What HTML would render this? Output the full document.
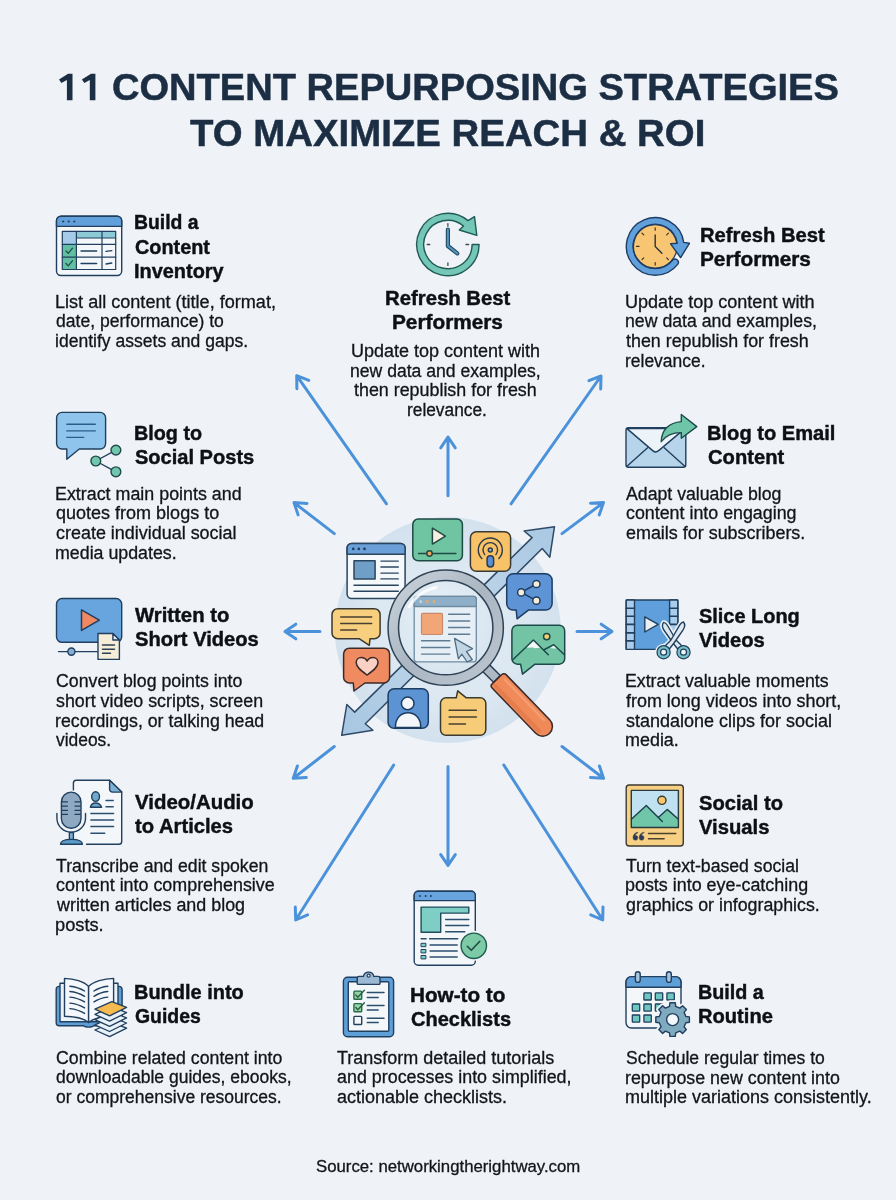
<!DOCTYPE html>
<html><head><meta charset="utf-8"><title>11 Content Repurposing Strategies</title>
<style>
html,body{margin:0;padding:0}
body{width:896px;height:1200px;position:relative;overflow:hidden;background:#eff3f7;font-family:"Liberation Sans",sans-serif}
#g{position:absolute;left:0;top:0;filter:blur(0.45px)}
#txt{position:absolute;left:0;top:0;width:896px;height:1200px;will-change:transform;filter:blur(0.35px)}
.x{position:absolute;white-space:nowrap;line-height:1;transform-origin:0 0;margin:0}
.t{font-size:37px;font-weight:700;color:#1c2e43;-webkit-text-stroke:0.5px #1c2e43}
.h{font-size:21px;font-weight:700;color:#0e1013;-webkit-text-stroke:0.45px #0e1013}
.b{font-size:17.6px;font-weight:400;color:#131518;-webkit-text-stroke:0.3px #131518}
.s{font-size:16.8px;font-weight:400;color:#131518;-webkit-text-stroke:0.3px #131518}
</style></head><body>
<svg id="g" width="896" height="1200" viewBox="0 0 896 1200">
<path d="M386.5 503.8L296.7 375.7M296.9 388.7L296.7 375.7L308.8 380.4" fill="none" stroke="#4c92da" stroke-width="3" stroke-linecap="round" stroke-linejoin="round"/>
<path d="M448.0 495.8L448.0 437.0M440.7 447.8L448.0 437.0L455.3 447.8" fill="none" stroke="#4c92da" stroke-width="3" stroke-linecap="round" stroke-linejoin="round"/>
<path d="M511.0 503.8L601.0 376.0M588.9 380.6L601.0 376.0L600.7 389.0" fill="none" stroke="#4c92da" stroke-width="3" stroke-linecap="round" stroke-linejoin="round"/>
<path d="M334.3 533.6L294.0 502.6M298.1 514.9L294.0 502.6L307.0 503.4" fill="none" stroke="#4c92da" stroke-width="3" stroke-linecap="round" stroke-linejoin="round"/>
<path d="M562.0 533.6L603.5 502.6M590.5 503.2L603.5 502.6L599.2 514.9" fill="none" stroke="#4c92da" stroke-width="3" stroke-linecap="round" stroke-linejoin="round"/>
<path d="M320.0 631.5L285.0 631.5M295.8 638.8L285.0 631.5L295.8 624.2" fill="none" stroke="#4c92da" stroke-width="3" stroke-linecap="round" stroke-linejoin="round"/>
<path d="M577.0 631.5L612.0 631.5M601.2 624.2L612.0 631.5L601.2 638.8" fill="none" stroke="#4c92da" stroke-width="3" stroke-linecap="round" stroke-linejoin="round"/>
<path d="M334.3 746.5L293.3 778.3M306.3 777.4L293.3 778.3L297.4 766.0" fill="none" stroke="#4c92da" stroke-width="3" stroke-linecap="round" stroke-linejoin="round"/>
<path d="M562.0 746.5L603.5 778.3M599.4 766.0L603.5 778.3L590.5 777.5" fill="none" stroke="#4c92da" stroke-width="3" stroke-linecap="round" stroke-linejoin="round"/>
<path d="M393.7 765.0L295.7 920.0M307.6 914.8L295.7 920.0L295.3 907.0" fill="none" stroke="#4c92da" stroke-width="3" stroke-linecap="round" stroke-linejoin="round"/>
<path d="M448.0 766.6L448.0 865.4M455.3 854.6L448.0 865.4L440.7 854.6" fill="none" stroke="#4c92da" stroke-width="3" stroke-linecap="round" stroke-linejoin="round"/>
<path d="M503.8 765.0L602.7 920.0M603.0 907.0L602.7 920.0L590.8 914.8" fill="none" stroke="#4c92da" stroke-width="3" stroke-linecap="round" stroke-linejoin="round"/>
<path d="M72.5 73.7L72.5 100.2L66.9 100.2L66.9 79.9L61.4 83L59.0 79.4L68.1 73.7Z" fill="#1c2e43"/>
<path d="M95.4 73.7L95.4 100.2L89.8 100.2L89.8 79.9L84.3 83L81.9 79.4L91.0 73.7Z" fill="#1c2e43"/>
<g stroke="#213f5e" stroke-width="1.4" stroke-linejoin="round" stroke-linecap="round" ><rect x="56.5" y="216.2" width="65.2" height="59.3" rx="4.5" fill="#f3f7fa"/><path d="M56.5 226.4V220.7a4.5 4.5 0 0 1 4.5-4.5H117.2a4.5 4.5 0 0 1 4.5 4.5V226.4Z" fill="#62a0dc"/><circle cx="63.2" cy="221.5" r="1.1" fill="#213f5e" stroke="none"/><circle cx="68.7" cy="221.5" r="1.1" fill="#213f5e" stroke="none"/><circle cx="74.3" cy="221.5" r="1.1" fill="#213f5e" stroke="none"/><rect x="62.3" y="231.3" width="14.1" height="13" fill="#a5cbe8" stroke="none"/><rect x="76.4" y="231.3" width="39.3" height="6.7" fill="#8ccad6" stroke="none"/><rect x="62.3" y="244.3" width="14.1" height="25.2" fill="#62bfa3" stroke="none"/><rect x="62.3" y="231.3" width="53.4" height="38.2" fill="none" stroke-width="1.2"/><path d="M76.4 231.3V269.5M102 231.3V269.5M76.4 238H115.7M62.3 244.3H115.7M62.3 257.2H115.7" fill="none" stroke-width="1.2"/><path d="M66 251l2.3 2.4 4.2-5.2M66 263.5l2.3 2.4 4.2-5.2" fill="none" stroke="#1d5248" stroke-width="1.3"/><path d="M81 251H96.7M81 263.5H96.7M106 251.4L111.8 250.6M106 264L111.8 263" fill="none" stroke-width="1.3"/></g>
<g stroke="#213f5e" stroke-width="1.4" stroke-linejoin="round" stroke-linecap="round" ><path d="M479.1 244.5A31.2 31.2 0 1 1 468.0 220.6L474.5 216.6L476.8 235.4L459.3 230L463.5 226.0A24.2 24.2 0 1 0 472.1 244.5Z" fill="#74c6b7" stroke="#1f5a55" stroke-width="1.4"/><path d="M447.9 229.6V246L457.3 253.4" fill="none" stroke="#1f4a66" stroke-width="4.2"/><path d="M447.9 229.6V246L457.3 253.4" fill="none" stroke="#5594bd" stroke-width="2"/><path d="M447.9 223.6v2.6M447.9 262.8v2.6M427.2 244.5h2.6M466 244.5h2.6" fill="none" stroke="#3a4a55" stroke-width="1.3"/></g>
<g stroke="#213f5e" stroke-width="1.4" stroke-linejoin="round" stroke-linecap="round" ><circle cx="655.2" cy="246.4" r="21.8" fill="#f8c572" stroke-width="1.3"/><path d="M677.9 264.1A28.8 28.8 0 1 1 683.7 242.4L689.4 243.3L680.6 257.6L670.6 243.8L677.2 243.3A22.2 22.2 0 1 0 672.7 260.1A3.3 3.3 0 0 1 677.9 264.1Z" fill="#62a0dc" stroke="#1d3d63" stroke-width="1.4"/><path d="M655.2 235V246.6L661.9 253.3" fill="none" stroke="#2a3340" stroke-width="1.4"/><path d="M666.7 257.9L668.4 259.6M655.2 262.6L655.2 265.0M643.7 257.9L642.0 259.6M639.0 246.4L636.6 246.4M643.7 234.9L642.0 233.2M655.2 230.2L655.2 227.8M666.7 234.9L668.4 233.2" fill="none" stroke="#3a3428" stroke-width="1.2"/></g>
<g stroke="#213f5e" stroke-width="1.4" stroke-linejoin="round" stroke-linecap="round" ><path d="M62 412.4H100.2a5.4 5.4 0 0 1 5.4 5.4V443.6a5.4 5.4 0 0 1-5.4 5.4H79.3L66.8 459.3V449H62a5.4 5.4 0 0 1-5.4-5.4V417.8a5.4 5.4 0 0 1 5.4-5.4Z" fill="#8fc4ec"/><path d="M66.8 424.2H95.3M66.8 430.9H95.3M66.8 437.4H83.7" fill="none" stroke="#2a5d8a" stroke-width="1.4"/><path d="M115.9 450.1L95.8 461L115.9 471.8" fill="none" stroke-width="1.4"/><circle cx="115.9" cy="450.1" r="4.9" fill="#72c6ab" stroke="#1d4a4a"/><circle cx="95.8" cy="461" r="4.9" fill="#72c6ab" stroke="#1d4a4a"/><circle cx="115.9" cy="471.8" r="4.9" fill="#72c6ab" stroke="#1d4a4a"/></g>
<g stroke="#213f5e" stroke-width="1.4" stroke-linejoin="round" stroke-linecap="round" ><rect x="626" y="427.6" width="59.8" height="39.7" rx="2.5" fill="#b7d5ea"/><path d="M627 466.3L647.6 447.7M684.8 466.3L664.2 447.7" fill="none"/><path d="M627 428.6L652.7 450.6a4.5 4.5 0 0 0 6 0L684.8 428.6Z" fill="#edf4f9"/><path d="M661.2 441.7C661.5 430 669 422.5 681.3 421.6V414.5L696.8 426.6L681.3 438.2V432.6C672 432.5 665.5 436 661.2 441.7Z" fill="#6ec5a8" stroke="#1d4a4a"/></g>
<g stroke="#213f5e" stroke-width="1.4" stroke-linejoin="round" stroke-linecap="round" ><rect x="56.5" y="598.5" width="65.2" height="43.8" rx="5.6" fill="#68a4de"/><path d="M81.5 609.9V630.4L99.3 620.1Z" fill="#f08862" stroke-width="1.5"/><path d="M58.5 651.6H98" fill="none"/><circle cx="71.4" cy="651.6" r="3.6" fill="#86add4"/><path d="M98 633.5H112.9L119.4 640V659.4H98Z" fill="#f5edd8"/><path d="M112.9 633.5V640H119.4Z" fill="#e6edf2"/><path d="M102.5 645.1H114.5M102.5 649.2H114.5M102.5 653.2H110.5" fill="none" stroke="#2c3f52" stroke-width="1.5"/></g>
<g stroke="#213f5e" stroke-width="1.4" stroke-linejoin="round" stroke-linecap="round" ><rect x="626.2" y="600" width="51.6" height="49.4" rx="1" fill="#5f9fdc"/><rect x="626.2" y="600" width="8.3" height="49.4" fill="#a9cdea"/><rect x="669.6" y="600" width="8.2" height="49.4" fill="#a9cdea"/><path d="M626.2 608.3h8.3M669.6 608.3h8.2M626.2 616.3h8.3M669.6 616.3h8.2M626.2 624.4h8.3M669.6 624.4h8.2M626.2 632.9h8.3M669.6 632.9h8.2M626.2 640.9h8.3M669.6 640.9h8.2" fill="none" stroke-width="1.6"/><path d="M644.8 616.8V632L658.2 624.4Z" fill="#e9eff5"/><path d="M663.6 622.4C661.6 625 662.6 628.5 664.5 631L673 643L678.5 650L682 646L676 640L667.5 625.5C666.5 623.8 665 622.5 663.6 622.4Z" fill="#eff3f7" stroke="#eff3f7" stroke-width="4.5"/><path d="M683.5 622C685.5 624.6 684.5 628.1 682.6 630.6L674 643L668.5 650L665 646L671 640L679.6 625.1C680.6 623.4 682.1 622.1 683.5 622Z" fill="#eff3f7" stroke="#eff3f7" stroke-width="4.5"/><circle cx="663.6" cy="652.2" r="4.8" fill="none" stroke="#eff3f7" stroke-width="7.5"/><circle cx="683.5" cy="652.2" r="4.8" fill="none" stroke="#eff3f7" stroke-width="7.5"/><path d="M664 652L673.5 641L683 652Z" fill="#eff3f7" stroke="#eff3f7" stroke-width="2"/><path d="M663.6 622.4C661.6 625 662.6 628.5 664.5 631L673 643L678.5 650L682 646L676 640L667.5 625.5C666.5 623.8 665 622.5 663.6 622.4Z" fill="#dfe8ef"/><path d="M683.5 622C685.5 624.6 684.5 628.1 682.6 630.6L674 643L668.5 650L665 646L671 640L679.6 625.1C680.6 623.4 682.1 622.1 683.5 622Z" fill="#dfe8ef"/><circle cx="663.6" cy="652.2" r="4.8" fill="none" stroke="#213f5e" stroke-width="4.8"/><circle cx="683.5" cy="652.2" r="4.8" fill="none" stroke="#213f5e" stroke-width="4.8"/><circle cx="663.6" cy="652.2" r="4.8" fill="none" stroke="#76c0c8" stroke-width="2.4"/><circle cx="683.5" cy="652.2" r="4.8" fill="none" stroke="#76c0c8" stroke-width="2.4"/></g>
<g stroke="#213f5e" stroke-width="1.4" stroke-linejoin="round" stroke-linecap="round" ><path d="M76.2 780.2H109.6L121.7 792.1V841.5a2.8 2.8 0 0 1-2.8 2.8H76.2a2.8 2.8 0 0 1-2.8-2.8V783a2.8 2.8 0 0 1 2.8-2.8Z" fill="#f3f7fa" stroke="none"/><path d="M73.4 790.5V783a2.8 2.8 0 0 1 2.8-2.8H109.6L121.7 792.1V841.5a2.8 2.8 0 0 1-2.8 2.8H86.5" fill="none"/><path d="M109.6 780.2V789a3 3 0 0 0 3 3.1H121.7Z" fill="#7fb1d5"/><ellipse cx="95.6" cy="796.6" rx="3.9" ry="4.8" fill="#70a9d0"/><path d="M90.4 807.3C91 804.5 93 803 95.6 803S100.6 804.5 101.6 807.3Z" fill="#70a9d0"/><path d="M106 800.4H113.2M106 806.8H113.2M90.9 813.5H113.6M90.9 820H113.6M90.9 826.6H113.6M90.9 833.3H104.7" fill="none" stroke="#2c4f6e" stroke-width="1.5"/><rect x="59.6" y="790.3" width="23.2" height="39.8" rx="11.6" fill="#eff3f7" stroke="none"/><path d="M56.9 813.5V817a14.3 14.3 0 0 0 28.6 0V813.5" fill="none" stroke="#eff3f7" stroke-width="4.5"/><rect x="61.4" y="792.1" width="19.6" height="36.2" rx="9.8" fill="#8fa9c3"/><path d="M62.2 801.9H67.4M75 801.9H80.2M62.2 806.1H67.4M75 806.1H80.2M62.2 810.4H67.4M75 810.4H80.2M62.2 814.4H67.4M75 814.4H80.2" fill="none" stroke-width="1.3"/><path d="M56.9 813.5V818a14.3 14.3 0 0 0 28.6 0V813.5" fill="none"/><rect x="69.4" y="832.5" width="4" height="7.5" fill="#7fb1d5"/><path d="M60.5 844.3C60.5 841 64 839.4 71.4 839.4S82.4 841 82.4 844.3Z" fill="#5b9bc9"/></g>
<g stroke="#213f5e" stroke-width="1.4" stroke-linejoin="round" stroke-linecap="round" ><rect x="626.2" y="785" width="57.1" height="61" rx="3" fill="#f8d083" stroke="#3b3a30"/><rect x="631.3" y="790.4" width="47.1" height="37.1" fill="#c0e1f1" stroke="none"/><path d="M631.3 819.2L646.3 805.4L658.8 817L667.2 809.4L678.4 819.2V827.5H631.3Z" fill="#6fc6a9" stroke="none"/><path d="M631.3 819.2L646.3 805.4L662.3 821.4M658.8 817L667.2 809.4L678.4 819.2" fill="none" stroke="#1d3d4a"/><circle cx="661.9" cy="800.3" r="4.1" fill="#f8c86c" stroke="#3b3a30"/><rect x="631.3" y="790.4" width="47.1" height="37.1" fill="none" stroke="#2b3a3a"/><path d="M648.5 833.5H675.7M648.5 838.8H664.1" fill="none" stroke="#4a4030" stroke-width="1.5"/><path d="M637.2 832.2C634.2 833.2 633 835.2 633 837.8000000000001a2.4 2.4 0 1 0 2.4 -2.4C635.4 834.2 636.2 833.4000000000001 637.6 833.0Z" fill="#2b3a55" stroke="#2b3a55" stroke-width="0.5"/><path d="M643.4000000000001 832.2C640.4000000000001 833.2 639.2 835.2 639.2 837.8000000000001a2.4 2.4 0 1 0 2.4 -2.4C641.6 834.2 642.4000000000001 833.4000000000001 643.8000000000001 833.0Z" fill="#2b3a55" stroke="#2b3a55" stroke-width="0.5"/></g>
<g stroke="#213f5e" stroke-width="1.4" stroke-linejoin="round" stroke-linecap="round" ><path d="M56.2 989.4a3 3 0 0 1 3-3H119.1a3 3 0 0 1 3 3V1025.7H93.6C92.6 1027.6 84.6 1027.6 83.6 1025.7H59.2a3 3 0 0 1-3-3Z" fill="#5f9fd8"/><path d="M60 983.3H80L88.6 988.5L97 983.3H118V1021.7H60Z" fill="#e9f1f9"/><path d="M64.5 978.4C74 978.6 84 981.5 88.6 986.4V1022.6C84 1018.5 74 1016.5 64.5 1016.3Z" fill="#f4f8fc"/><path d="M113.6 978.4C104 978.6 93.2 981.5 88.6 986.4V1022.6C93.2 1018.5 104 1016.5 113.6 1016.3Z" fill="#f4f8fc"/><path d="M69.9 986.2Q78 987.0 84.6 991.0M69.9 991.5Q78 992.3 84.6 996.3M69.9 997.1Q78 997.9 84.6 1001.9M69.9 1003.1Q78 1003.9 84.6 1007.9M69.9 1008.6Q78 1009.4 84.6 1013.4M107.8 986.2Q100 987.0 94 991.0M107.8 991.5Q100 992.3 94 996.3M107.8 997.1Q100 997.9 94 1001.9" fill="none" stroke-width="1.4"/><path d="M94.9 1030.0L111.8 1022.4L126.6 1028.2L109.6 1036.7Z" fill="#e9f1f9" stroke-width="1.3"/><path d="M94.9 1024.8L111.8 1017.2L126.6 1023.0L109.6 1031.5Z" fill="#e9f1f9" stroke-width="1.3"/><path d="M94.9 1019.6L111.8 1012.0L126.6 1017.8L109.6 1026.3Z" fill="#e9f1f9" stroke-width="1.3"/><path d="M94.9 1014.4L111.8 1006.8L126.6 1012.6L109.6 1021.1Z" fill="#e9f1f9" stroke-width="1.3"/><path d="M94.9 1009.2L111.8 1001.6L126.6 1007.4L109.6 1015.9Z" fill="#f5ba50" stroke-width="1.3"/></g>
<g stroke="#213f5e" stroke-width="1.4" stroke-linejoin="round" stroke-linecap="round" ><rect x="343.4" y="977.3" width="50.2" height="59.4" rx="4" fill="#5f9fd8"/><rect x="348.3" y="981.8" width="40.5" height="49.5" rx="1" fill="#f3f7fa"/><path d="M357.2 983.4V978.4a2 2 0 0 1 2-2H363.4a5.3 5.3 0 0 1 10.4 0H378a2 2 0 0 1 2 2V983.4a1 1 0 0 1-1 1H358.2a1 1 0 0 1-1-1Z" fill="#9cb9d4"/><circle cx="368.6" cy="975.7" r="1.5" fill="#f3f7fa" stroke-width="1.2"/><rect x="353.9" y="991.1" width="7.8" height="8.1" rx="0.8" fill="#93d5a4" stroke="#2a6a4a"/><rect x="353.9" y="1003.6" width="7.8" height="8.1" rx="0.8" fill="#93d5a4" stroke="#2a6a4a"/><rect x="353.9" y="1016.4" width="7.8" height="8.1" rx="0.8" fill="#f3f7fa"/><path d="M355.8 995l2 2.2 6.6-7M355.8 1007.5l2 2.2 6.6-7" fill="none" stroke="#2a5a44" stroke-width="1.3"/><path d="M367.3 992.5H384M367.3 1005.4H384M367.3 1018.2H384M367.3 997.4H378.2M367.3 1010.1H378.2M367.3 1022.4H378.2" fill="none" stroke="#2c4f6e" stroke-width="1.5"/></g>
<g stroke="#213f5e" stroke-width="1.4" stroke-linejoin="round" stroke-linecap="round" ><rect x="626" y="976.6" width="55" height="51.4" rx="5.4" fill="#f3f7fa"/><path d="M626 987.3V982a5.4 5.4 0 0 1 5.4-5.4H675.6a5.4 5.4 0 0 1 5.4 5.4V987.3Z" fill="#5f9fd8"/><rect x="635.4" y="971.7" width="4.8" height="10.7" rx="2.4" fill="#a9c6e0"/><rect x="666.5" y="971.7" width="4.8" height="10.7" rx="2.4" fill="#a9c6e0"/><rect x="643.9" y="992.9" width="7.4" height="7.1" rx="0.6" fill="#6fc7c2" stroke-width="1.3"/><rect x="655.3" y="992.9" width="7.4" height="7.1" rx="0.6" fill="#6fc7c2" stroke-width="1.3"/><rect x="666.9" y="992.9" width="7.4" height="7.1" rx="0.6" fill="#6fc7c2" stroke-width="1.3"/><rect x="632.3" y="1004" width="7.4" height="7.1" rx="0.6" fill="#6fc7c2" stroke-width="1.3"/><rect x="643.9" y="1004" width="7.4" height="7.1" rx="0.6" fill="#6fc7c2" stroke-width="1.3"/><rect x="655.3" y="1004" width="7.4" height="7.1" rx="0.6" fill="#6fc7c2" stroke-width="1.3"/><rect x="632.3" y="1015" width="7.4" height="7.1" rx="0.6" fill="#6fc7c2" stroke-width="1.3"/><rect x="643.9" y="1015" width="7.4" height="7.1" rx="0.6" fill="#6fc7c2" stroke-width="1.3"/><path d="M685.9 1016.5L689.4 1016.9L689.4 1022.3L685.9 1022.7L684.1 1026.8L686.4 1029.6L682.6 1033.4L679.8 1031.1L675.7 1032.9L675.3 1036.4L669.9 1036.4L669.5 1032.9L665.4 1031.1L662.6 1033.4L658.8 1029.6L661.1 1026.8L659.3 1022.7L655.8 1022.3L655.8 1016.9L659.3 1016.5L661.1 1012.4L658.8 1009.6L662.6 1005.8L665.4 1008.1L669.5 1006.3L669.9 1002.8L675.3 1002.8L675.7 1006.3L679.8 1008.1L682.6 1005.8L686.4 1009.6L684.1 1012.4Z" fill="#eff3f7" stroke="#eff3f7" stroke-width="5"/><path d="M685.9 1016.5L689.4 1016.9L689.4 1022.3L685.9 1022.7L684.1 1026.8L686.4 1029.6L682.6 1033.4L679.8 1031.1L675.7 1032.9L675.3 1036.4L669.9 1036.4L669.5 1032.9L665.4 1031.1L662.6 1033.4L658.8 1029.6L661.1 1026.8L659.3 1022.7L655.8 1022.3L655.8 1016.9L659.3 1016.5L661.1 1012.4L658.8 1009.6L662.6 1005.8L665.4 1008.1L669.5 1006.3L669.9 1002.8L675.3 1002.8L675.7 1006.3L679.8 1008.1L682.6 1005.8L686.4 1009.6L684.1 1012.4Z" fill="#80aabf" stroke-width="1.4"/><circle cx="672.6" cy="1019.6" r="6" fill="#f6f9fb"/></g>
<g stroke="#213f5e" stroke-width="1.4" stroke-linejoin="round" stroke-linecap="round" ><rect x="414.2" y="891.2" width="61.1" height="74" rx="4" fill="#f3f7fa"/><path d="M414.2 900.6V895.2a4 4 0 0 1 4-4H471.3a4 4 0 0 1 4 4V900.6Z" fill="#68a4de"/><circle cx="419.9" cy="895.9" r="1" fill="#213f5e" stroke="none"/><circle cx="425.6" cy="895.9" r="1" fill="#213f5e" stroke="none"/><circle cx="430.9" cy="895.9" r="1" fill="#213f5e" stroke="none"/><path d="M421.1 907.1H468.8V913.1H440.7V932.2H421.1Z" fill="#7fcec5" stroke="#1f4c5c"/><path d="M445.7 919.4H468.8M445.7 925.4H468.8M445.7 931.7H464.8M421.1 938.7H426.1M429.6 938.7H457.7M430.1 945H457.2M430.1 951.1H457.2M430.1 957.1H457.2" fill="none" stroke="#2c4f6e" stroke-width="1.5"/><rect x="421.4" y="943.3" width="4.5" height="3.4" fill="#7fcec5" stroke-width="1"/><rect x="421.4" y="949.5" width="4.5" height="3.4" fill="#7fcec5" stroke-width="1"/><rect x="421.4" y="955.5" width="4.5" height="3.4" fill="#7fcec5" stroke-width="1"/><circle cx="473.8" cy="945.8" r="15" fill="#eff3f7" stroke="none"/><circle cx="473.8" cy="945.8" r="12.7" fill="#7ccaa6" stroke="#1f5c50"/><path d="M467.3 946.3L471.3 950.3L479.8 941.3" fill="none" stroke="#1f4c44" stroke-width="1.6"/></g>
<defs><radialGradient id="bgc" cx="50%" cy="50%" r="50%"><stop offset="0" stop-color="#e4edf5"/><stop offset="0.7" stop-color="#dbe7f1"/><stop offset="1" stop-color="#d3e1ee"/></radialGradient><linearGradient id="arw" x1="0" y1="1" x2="1" y2="0"><stop offset="0" stop-color="#a6c6e2"/><stop offset="0.5" stop-color="#c3d8ea"/><stop offset="1" stop-color="#a9c8e3"/></linearGradient><linearGradient id="ring" x1="0" y1="0" x2="1" y2="1"><stop offset="0" stop-color="#c9d2da"/><stop offset="0.5" stop-color="#aab6c2"/><stop offset="1" stop-color="#bcc6d0"/></linearGradient><radialGradient id="lens" cx="45%" cy="40%" r="60%"><stop offset="0" stop-color="#e9f1f7"/><stop offset="1" stop-color="#d6e4ef"/></radialGradient></defs>
<circle cx="447.8" cy="630" r="113" fill="url(#bgc)"/>
<g stroke="#2f4a66" stroke-width="1.5" stroke-linejoin="round" stroke-linecap="round"><path d="M554.5 526.7L524.1 531L532.1 537.6L354.7 712.1L346.8 704.5L341.7 735.3L372.9 730.2L365.3 723.7L542.2 548.5L549.8 557.2Z" fill="url(#arw)"/></g>
<g stroke="#2a4560" stroke-width="1.5" stroke-linejoin="round" stroke-linecap="round"><rect x="347.1" y="543.4" width="58" height="55.1" rx="4.4" fill="#f4f8fb"/><path d="M347.1 554.3V547.8a4.4 4.4 0 0 1 4.4-4.4H400.7a4.4 4.4 0 0 1 4.4 4.4V554.3Z" fill="#6a9fd8"/><circle cx="353.3" cy="548.9" r="1.3" fill="#1f3a5c" stroke="none"/><circle cx="358.8" cy="548.9" r="1.3" fill="#1f3a5c" stroke="none"/><circle cx="364.5" cy="548.9" r="1.3" fill="#1f3a5c" stroke="none"/><rect x="354" y="560.8" width="21.1" height="18.1" fill="#6f9fc6"/><path d="M380.9 561.1H398.3M380.9 567H398.3M380.9 573.1H398.3M380.9 578.9H398.3M354 585.2H398.3M354 591.3H398.3" fill="none" stroke-width="1.4"/></g>
<g stroke="#1f4a44" stroke-width="1.5" stroke-linejoin="round" stroke-linecap="round"><rect x="412.8" y="519" width="49.6" height="41.8" rx="5.5" fill="#6fc4a2"/><path d="M432.4 528.1V544.1L445.4 536.1Z" fill="#f7efe0"/><path d="M418.6 553.5H455.9" fill="none"/><circle cx="429.5" cy="553.5" r="2.7" fill="#f0a860"/></g>
<g stroke="#3a3a32" stroke-width="1.5" stroke-linejoin="round" stroke-linecap="round"><rect x="470.4" y="531.8" width="40.2" height="39.4" rx="6" fill="#f7c268"/></g>
<g stroke="#2f3a48" stroke-width="1.5" stroke-linejoin="round" stroke-linecap="round"><path d="M484.7 554.6A7.3 7.3 0 1 1 495.9 554.6M481.8 558.4A12 12 0 1 1 498.8 558.4" fill="none" stroke-width="1.4"/><circle cx="490.3" cy="549.9" r="2" fill="#9ab4c8"/><rect x="487.1" y="555.7" width="6.5" height="11.2" rx="3.2" fill="#5b8fd6"/></g>
<g stroke="#1d3d63" stroke-width="1.5" stroke-linejoin="round" stroke-linecap="round"><path d="M513.2 573.8H545.6a6.5 6.5 0 0 1 6.5 6.5V603.6a6.5 6.5 0 0 1-6.5 6.5H528.4L517.1 618.8L516.2 610.1H513.2a6.5 6.5 0 0 1-6.5-6.5V580.3a6.5 6.5 0 0 1 6.5-6.5Z" fill="#5e93d6"/><path d="M536.4 584L521.2 592.4L536.4 600.7" fill="none"/><circle cx="536.4" cy="584" r="3.6" fill="#f5edd6"/><circle cx="521.2" cy="592.4" r="3.6" fill="#f5edd6"/><circle cx="536.4" cy="600.7" r="3.6" fill="#f5edd6"/></g>
<g stroke="#1d4a4a" stroke-width="1.5" stroke-linejoin="round" stroke-linecap="round"><path d="M517.4 625.2H559.2a5.5 5.5 0 0 1 5.5 5.5V658.7a5.5 5.5 0 0 1-5.5 5.5H535L522.5 674.1L520.6 664.2H517.4a5.5 5.5 0 0 1-5.5-5.5V630.7a5.5 5.5 0 0 1 5.5-5.5Z" fill="#72c4a4"/><path d="M526 647L533.4 640L541 648C538 647 536 649 533.5 647.8C531 646.8 529 648.5 526 647Z" fill="#f3f8f8" stroke="none"/><path d="M550.5 648L553.8 644.7L557.5 648.2C555.5 648 553 649 550.5 648Z" fill="#e4f2ee" stroke="none"/><path d="M513.1 659.5L533.4 640L548.3 654.8M543.5 650L553.8 644.7L564.4 654.8" fill="none"/><circle cx="546.7" cy="636.6" r="3.2" fill="#f7d070"/></g>
<g stroke="#3b3a30" stroke-width="1.5" stroke-linejoin="round" stroke-linecap="round"><path d="M337.8 608.7H374.3a5.8 5.8 0 0 1 5.8 5.8V632.9a5.8 5.8 0 0 1-5.8 5.8H370L369.3 645.3L359.1 638.7H337.8a5.8 5.8 0 0 1-5.8-5.8V614.5a5.8 5.8 0 0 1 5.8-5.8Z" fill="#f7cf7e"/><path d="M340.7 617.1H371.7M340.7 623.6H371.7M340.7 630.1H356.6" fill="none" stroke="#4a4030"/></g>
<g stroke="#3a2a2a" stroke-width="1.5" stroke-linejoin="round" stroke-linecap="round"><path d="M349.4 648.2H383.8a5.8 5.8 0 0 1 5.8 5.8V677.2a5.8 5.8 0 0 1-5.8 5.8H364.9L354 691L353.3 683H349.4a5.8 5.8 0 0 1-5.8-5.8V654a5.8 5.8 0 0 1 5.8-5.8Z" fill="#f08a60"/><path d="M367.1 675.1C361 670.5 356.2 667 356.2 662.6C356.2 659.5 358.6 657.5 361.3 657.5C363.6 657.5 365.8 658.8 367.1 661C368.4 658.8 370.6 657.5 372.9 657.5C375.6 657.5 378 659.5 378 662.6C378 667 373.2 670.5 367.1 675.1Z" fill="#f9d2c4"/></g>
<g stroke="#1d3d63" stroke-width="1.5" stroke-linejoin="round" stroke-linecap="round"><rect x="388.1" y="688.8" width="40.2" height="39.5" rx="6" fill="#5b93d3"/><path d="M395.4 727.5C395.4 718 401 712.8 408 712.8S420.8 718 420.8 727.5Z" fill="#f3f7fb"/><circle cx="407.7" cy="703.4" r="6.3" fill="#f3f7fb"/></g>
<g stroke="#3b3a30" stroke-width="1.5" stroke-linejoin="round" stroke-linecap="round"><path d="M446 697.8H456.2L457.7 690.8L466.3 697.8H480.3a5.5 5.5 0 0 1 5.5 5.5V729.8a5.5 5.5 0 0 1-5.5 5.5H446a5.5 5.5 0 0 1-5.5-5.5V703.3a5.5 5.5 0 0 1 5.5-5.5Z" fill="#f7cc78"/><path d="M449.1 710.3H476.4M449.1 716.9H476.4M449.1 723.9H465.5" fill="none" stroke="#4a4030"/></g>
<g stroke="#2f4355" stroke-width="1.5" stroke-linejoin="round" stroke-linecap="round"><rect x="0.0" y="-4.8" width="19.0" height="9.6" rx="0" fill="#aeb9c5" transform="translate(483.5 665.5) rotate(45)" /></g>
<g stroke="#3a2a2a" stroke-width="1.5" stroke-linejoin="round" stroke-linecap="round"><path d="M3 -9.7H65.8a9.7 9.7 0 0 1 0 19.4H3a3 3 0 0 1-3-3V-6.7a3 3 0 0 1 3-3Z" transform="translate(497 679.2) rotate(46)" fill="#f08a58"/><path d="M4 5.8H66" transform="translate(497 679.2) rotate(46)" stroke="#d9703f" stroke-width="4" fill="none" opacity="0.5"/><path d="M6 -5.4H62" transform="translate(497 679.2) rotate(46)" stroke="#f7a57c" stroke-width="2.5" fill="none" opacity="0.7"/></g>
<g stroke-linejoin="round" stroke-linecap="round"><circle cx="445.7" cy="627.7" r="52.4" fill="url(#lens)" stroke="none"/><rect x="414.2" y="596.3" width="62.1" height="65.6" rx="3" fill="#e6eff6" stroke="#6f8ba1" stroke-width="1.3"/><path d="M414.2 606.5V599.3a3 3 0 0 1 3-3H473.3a3 3 0 0 1 3 3V606.5Z" fill="#8fb0c8" stroke="#6f8ba1" stroke-width="1.3"/><circle cx="427.3" cy="601.7" r="1.4" fill="#f0a860" stroke="none"/><circle cx="434.1" cy="601.7" r="1.4" fill="#f0a860" stroke="none"/><circle cx="420.8" cy="601.7" r="1.4" fill="#c8d6e0" stroke="none"/><rect x="421.5" y="613.3" width="21" height="21.2" rx="1.2" fill="#f2a678" stroke="#c98a6a" stroke-width="1.2"/><path d="M448.6 614.2H469.7M448.6 621H469.7M448.6 627.5H469.7M448.6 634.3H469.7M421.5 640.8H449.8M421.5 647.5H449.8M421.5 654.1H449.8" fill="none" stroke="#5f7c93" stroke-width="1.4"/><path d="M454.5 638.4L472.5 648.6L466.5 651.5L472.3 659.6L467.2 662L461.8 654.2L458.4 658.8Z" fill="#c2d5e3" stroke="#4f6d84" stroke-width="1.3"/><path d="M409 607A41 41 0 0 1 436 587.5" fill="none" stroke="#ffffff" stroke-width="3" opacity="0.8"/><circle cx="445.7" cy="627.7" r="52.4" fill="none" stroke="#2f4355" stroke-width="12"/><circle cx="445.7" cy="627.7" r="52.4" fill="none" stroke="url(#ring)" stroke-width="9"/></g>
</svg>

<div id="txt">
<div class="x t" style="left:112.27px;top:68.68px;transform:scaleX(1.0289)">CONTENT REPURPOSING STRATEGIES</div>
<div class="x t" style="left:190.00px;top:115.18px;transform:scaleX(1.0374)">TO MAXIMIZE REACH &amp; ROI</div>
<div class="x h" style="left:134.28px;top:211.22px;transform:scaleX(0.9230)">Build a</div>
<div class="x h" style="left:135.20px;top:235.62px;transform:scaleX(0.9452)">Content</div>
<div class="x h" style="left:134.25px;top:259.72px;transform:scaleX(0.9481)">Inventory</div>
<div class="x b" style="left:55.27px;top:293.70px;transform:scaleX(1.0270)">List all content (title, format,</div>
<div class="x b" style="left:56.30px;top:313.40px;transform:scaleX(0.9975)">date, performance) to</div>
<div class="x b" style="left:55.30px;top:333.10px;transform:scaleX(0.9971)">identify assets and gaps.</div>
<div class="x h" style="left:384.73px;top:286.72px;transform:scaleX(0.9674)">Refresh Best</div>
<div class="x h" style="left:392.31px;top:310.82px;transform:scaleX(0.9898)">Performers</div>
<div class="x b" style="left:350.98px;top:343.00px;transform:scaleX(1.0225)">Update top content with</div>
<div class="x b" style="left:349.90px;top:362.70px;transform:scaleX(0.9998)">new data and examples,</div>
<div class="x b" style="left:354.40px;top:382.40px;transform:scaleX(1.0152)">then republish for fresh</div>
<div class="x b" style="left:407.42px;top:402.20px;transform:scaleX(0.9838)">relevance.</div>
<div class="x h" style="left:699.54px;top:224.02px;transform:scaleX(0.9628)">Refresh Best</div>
<div class="x h" style="left:699.51px;top:248.42px;transform:scaleX(0.9898)">Performers</div>
<div class="x b" style="left:625.27px;top:293.70px;transform:scaleX(1.0253)">Update top content with</div>
<div class="x b" style="left:625.29px;top:313.40px;transform:scaleX(1.0062)">new data and examples,</div>
<div class="x b" style="left:626.30px;top:333.10px;transform:scaleX(1.0152)">then republish for fresh</div>
<div class="x b" style="left:625.31px;top:352.80px;transform:scaleX(0.9914)">relevance.</div>
<div class="x h" style="left:134.26px;top:422.22px;transform:scaleX(0.9417)">Blog to</div>
<div class="x h" style="left:135.20px;top:446.02px;transform:scaleX(0.9546)">Social Posts</div>
<div class="x b" style="left:55.29px;top:485.50px;transform:scaleX(1.0150)">Extract main points and</div>
<div class="x b" style="left:56.30px;top:505.30px;transform:scaleX(1.0236)">quotes from blogs to</div>
<div class="x b" style="left:56.30px;top:525.00px;transform:scaleX(1.0198)">create individual social</div>
<div class="x b" style="left:55.29px;top:544.70px;transform:scaleX(1.0117)">media updates.</div>
<div class="x h" style="left:706.54px;top:422.22px;transform:scaleX(0.9572)">Blog to Email</div>
<div class="x h" style="left:707.50px;top:446.02px;transform:scaleX(0.9603)">Content</div>
<div class="x b" style="left:626.30px;top:485.50px;transform:scaleX(1.0054)">Adapt valuable blog</div>
<div class="x b" style="left:626.30px;top:505.30px;transform:scaleX(1.0133)">content into engaging</div>
<div class="x b" style="left:626.30px;top:525.00px;transform:scaleX(1.0188)">emails for subscribers.</div>
<div class="x h" style="left:135.20px;top:603.82px;transform:scaleX(0.9669)">Written to</div>
<div class="x h" style="left:135.20px;top:627.62px;transform:scaleX(0.9588)">Short Videos</div>
<div class="x b" style="left:56.30px;top:673.40px;transform:scaleX(1.0078)">Convert blog points into</div>
<div class="x b" style="left:56.30px;top:693.20px;transform:scaleX(1.0133)">short video scripts, screen</div>
<div class="x b" style="left:55.29px;top:712.90px;transform:scaleX(1.0090)">recordings, or talking head</div>
<div class="x b" style="left:56.30px;top:732.00px;transform:scaleX(0.9881)">videos.</div>
<div class="x h" style="left:698.80px;top:604.92px;transform:scaleX(0.9489)">Slice Long</div>
<div class="x h" style="left:698.80px;top:628.72px;transform:scaleX(0.9612)">Videos</div>
<div class="x b" style="left:625.29px;top:673.40px;transform:scaleX(1.0059)">Extract valuable moments</div>
<div class="x b" style="left:626.30px;top:693.20px;transform:scaleX(1.0193)">from long videos into short,</div>
<div class="x b" style="left:626.30px;top:712.90px;transform:scaleX(1.0226)">standalone clips for social</div>
<div class="x b" style="left:625.28px;top:732.00px;transform:scaleX(1.0192)">media.</div>
<div class="x h" style="left:135.20px;top:791.42px;transform:scaleX(0.9726)">Video/Audio</div>
<div class="x h" style="left:135.20px;top:815.22px;transform:scaleX(0.9623)">to Articles</div>
<div class="x b" style="left:56.30px;top:857.60px;transform:scaleX(1.0034)">Transcribe and edit spoken</div>
<div class="x b" style="left:56.30px;top:877.40px;transform:scaleX(1.0164)">content into comprehensive</div>
<div class="x b" style="left:57.32px;top:897.10px;transform:scaleX(1.0176)">written articles and blog</div>
<div class="x b" style="left:55.26px;top:916.80px;transform:scaleX(1.0364)">posts.</div>
<div class="x h" style="left:698.80px;top:792.02px;transform:scaleX(0.9594)">Social to</div>
<div class="x h" style="left:698.80px;top:815.82px;transform:scaleX(0.9625)">Visuals</div>
<div class="x b" style="left:626.30px;top:857.60px;transform:scaleX(1.0028)">Turn text-based social</div>
<div class="x b" style="left:625.28px;top:877.40px;transform:scaleX(1.0176)">posts into eye-catching</div>
<div class="x b" style="left:626.30px;top:897.10px;transform:scaleX(1.0111)">graphics or infographics.</div>
<div class="x h" style="left:134.25px;top:981.12px;transform:scaleX(0.9509)">Bundle into</div>
<div class="x h" style="left:135.20px;top:1004.92px;transform:scaleX(0.9246)">Guides</div>
<div class="x b" style="left:56.30px;top:1049.60px;transform:scaleX(1.0064)">Combine related content into</div>
<div class="x b" style="left:56.30px;top:1069.30px;transform:scaleX(0.9952)">downloadable guides, ebooks,</div>
<div class="x b" style="left:56.30px;top:1089.10px;transform:scaleX(0.9948)">or comprehensive resources.</div>
<div class="x h" style="left:409.91px;top:984.02px;transform:scaleX(0.9851)">How-to to</div>
<div class="x h" style="left:410.90px;top:1007.82px;transform:scaleX(0.9521)">Checklists</div>
<div class="x b" style="left:336.60px;top:1049.60px;transform:scaleX(1.0220)">Transform detailed tutorials</div>
<div class="x b" style="left:336.60px;top:1069.30px;transform:scaleX(1.0161)">and processes into simplified,</div>
<div class="x b" style="left:336.60px;top:1089.10px;transform:scaleX(1.0232)">actionable checklists.</div>
<div class="x h" style="left:697.86px;top:981.02px;transform:scaleX(0.9402)">Build a</div>
<div class="x h" style="left:697.84px;top:1005.32px;transform:scaleX(0.9581)">Routine</div>
<div class="x b" style="left:626.30px;top:1049.50px;transform:scaleX(0.9964)">Schedule regular times to</div>
<div class="x b" style="left:625.29px;top:1069.50px;transform:scaleX(1.0120)">repurpose new content into</div>
<div class="x b" style="left:625.28px;top:1088.80px;transform:scaleX(1.0225)">multiple variations consistently.</div>
<div class="x s" style="left:315.70px;top:1158.98px;transform:scaleX(0.9988)">Source: networkingtherightway.com</div>
</div>
</body></html>
